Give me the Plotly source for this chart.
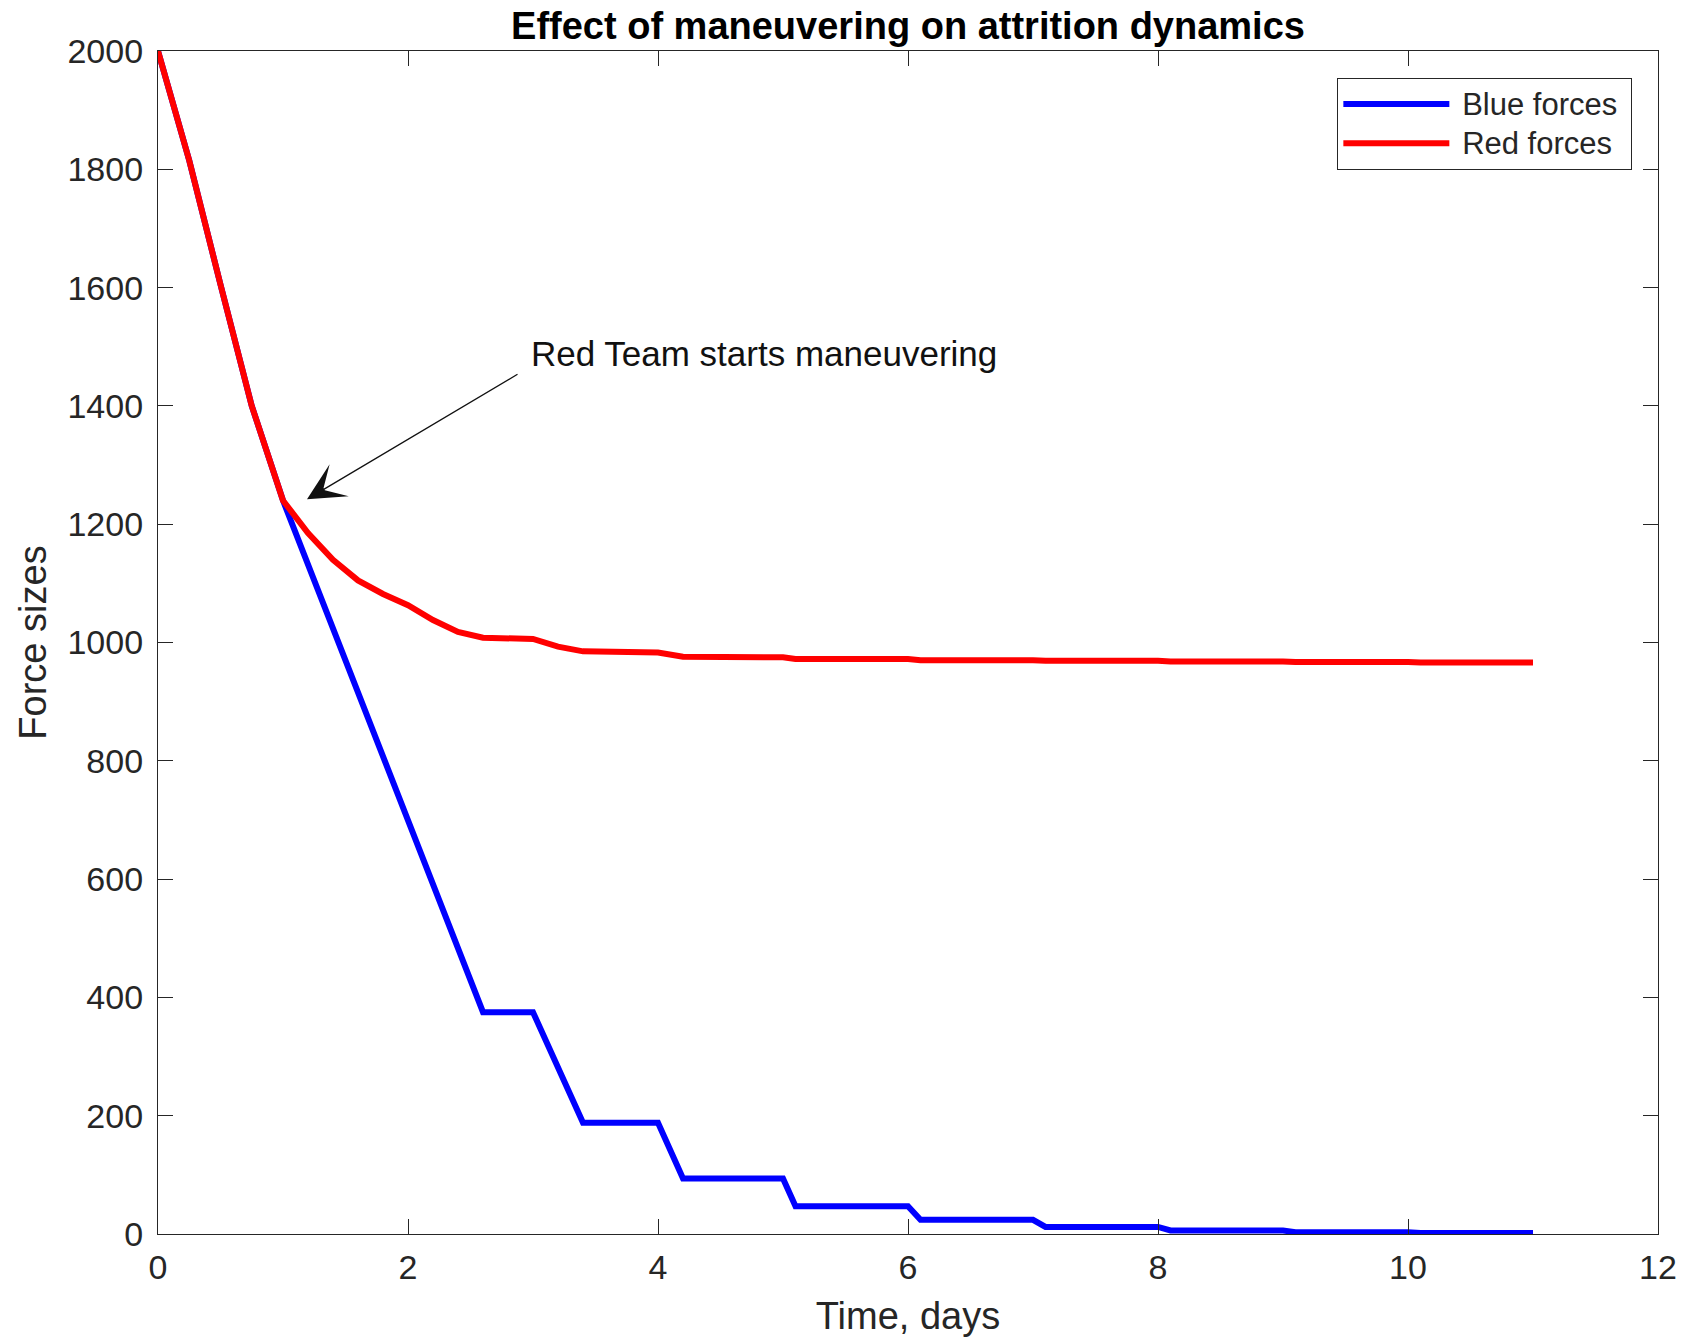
import plotly.graph_objects as go

# ---- data ----
blue_t = [0, 0.25, 0.5, 0.75, 1.0, 2.6, 3.0, 3.4, 4.0, 4.2, 5.0, 5.1, 6.0, 6.1,
          7.0, 7.1, 8.0, 8.1, 9.0, 9.1, 10.0, 10.1, 11.0]
blue_y = [2000, 1815, 1605, 1400, 1240, 375, 375, 188, 188, 94, 94, 47, 47, 24,
          24, 12, 12, 6, 6, 3, 3, 1.5, 1.5]

red_t = [0, 0.25, 0.5, 0.75, 1.0, 1.2, 1.4, 1.6, 1.8, 2.0, 2.2, 2.4, 2.6, 3.0,
         3.2, 3.4, 4.0, 4.2, 5.0, 5.1, 6.0, 6.1, 7.0, 7.1, 8.0, 8.1, 9.0, 9.1,
         10.0, 10.1, 11.0]
red_y = [2000, 1815, 1605, 1400, 1240, 1185, 1140, 1105, 1082, 1063, 1038, 1018,
         1008, 1006, 993, 985, 983, 976, 975, 972, 972, 970, 970, 969, 969, 968,
         968, 967, 967, 966, 966]

x_ticks = [0, 2, 4, 6, 8, 10, 12]
y_ticks = [0, 200, 400, 600, 800, 1000, 1200, 1400, 1600, 1800, 2000]

FONT = "Liberation Sans, Arial, Helvetica, sans-serif"
AXC = "#262626"
NB = "\u00a0"


def legend_name(s):
    return NB + '<span style="font-size:31px">' + s + '</span>' + NB


W, H = 1676, 1332  # page body has an 8px margin
fig = go.Figure()
fig.add_trace(go.Scatter(x=blue_t, y=blue_y, mode="lines", name=legend_name("Blue forces"),
                         line=dict(color="#0000FF", width=6)))
fig.add_trace(go.Scatter(x=red_t, y=red_y, mode="lines", name=legend_name("Red forces"),
                         line=dict(color="#FF0000", width=6)))

axis_common = dict(showgrid=False, zeroline=False, showline=True, linecolor=AXC,
                   linewidth=1.3, mirror="ticks", ticks="inside", ticklen=15,
                   tickcolor=AXC, tickwidth=1.3, automargin=False,
                   tickfont=dict(family=FONT, size=34, color=AXC))

fig.update_xaxes(range=[0, 12], tickvals=x_ticks,
                 title=dict(text="Time, days", font=dict(family=FONT, size=38, color=AXC),
                            standoff=17),
                 ticklabelstandoff=3, **axis_common)
fig.update_yaxes(range=[0, 2000], tickvals=y_ticks,
                 title=dict(text="Force sizes", font=dict(family=FONT, size=38, color=AXC),
                            standoff=9),
                 ticklabelstandoff=7, **axis_common)

fig.add_annotation(x=1.192, y=1242, xref="x", yref="y", text="", showarrow=True,
                   ax=212, ay=-126, arrowhead=3, arrowsize=4.8, arrowwidth=1.3,
                   arrowcolor="#111111", standoff=0)
fig.add_annotation(x=2.965, y=1489, xref="x", yref="y", text="Red Team starts maneuvering",
                   showarrow=False, xanchor="left", yanchor="middle",
                   font=dict(family=FONT, size=35, color="#111111"))

fig.update_layout(
    width=W, height=H,
    margin=dict(l=150, r=26, t=43, b=106),
    paper_bgcolor="white", plot_bgcolor="white",
    title=dict(text="<b>Effect of maneuvering on attrition dynamics</b>",
               x=900 / W, xanchor="center", y=1 - 18 / H, yanchor="middle",
               font=dict(family=FONT, size=38, color="#000000")),
    legend=dict(x=0.9827, y=0.9772, xanchor="right", yanchor="top",
                bgcolor="white", bordercolor=AXC, borderwidth=1.3,
                font=dict(family=FONT, size=28, color=AXC), itemwidth=106,
                tracegroupgap=0),
    showlegend=True,
)

fig.write_html("out.html")
